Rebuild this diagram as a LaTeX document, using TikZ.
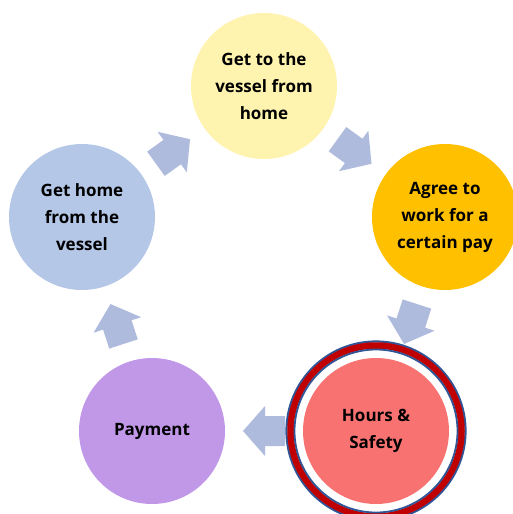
\documentclass[tikz,border=0pt]{standalone}
\usepackage{fontspec}
\setmainfont{Open Sans}
\usetikzlibrary{calc,backgrounds}
\definecolor{cyel}{HTML}{FFF3B0}
\definecolor{corg}{HTML}{FFC000}
\definecolor{cblu}{HTML}{B4C7E7}
\definecolor{cpur}{HTML}{C198E8}
\definecolor{cpnk}{HTML}{F87272}
\definecolor{carr}{HTML}{AFBBDD}
\definecolor{cring}{HTML}{C00000}
\definecolor{cedge}{HTML}{2F5597}
\newcommand\cyclearrow[2]{%
  \pgfmathanglebetweenpoints{\pgfpointanchor{#1}{center}}{\pgfpointanchor{#2}{center}}%
  \let\arrang\pgfmathresult
  \begin{scope}[shift={($(#1.center)!0.5!(#2.center)$)}, rotate=\arrang]
    \fill[carr] (-21,-15) -- (-1,-15) -- (-1,-25) -- (21,0) -- (-1,25) -- (-1,15) -- (-21,15) -- cycle;
  \end{scope}}
\begin{document}
\begin{tikzpicture}[x=1pt,y=1pt,
  stage/.style={circle, minimum size=146pt, inner sep=0pt, align=center,
    font=\fontsize{17}{27}\selectfont\bfseries}]
\useasboundingbox (0,0) rectangle (513,-514);
\clip (0,0) rectangle (513,-514);
\node[stage, fill=cyel] (t) at (264,-86) {Get to the\\vessel from\\home};
\node[stage, fill=corg] (r) at (445,-217) {Agree to\\work for a\\certain pay};
\node[stage, fill=cpnk] (h) at (376,-431) {Hours \&\\Safety};
\node[stage, fill=cpur] (p) at (152,-431) {Payment};
\node[stage, fill=cblu] (l) at (82,-217) {Get home\\from the\\vessel};
\draw[cedge, line width=2.2pt] (h.center) circle[radius=89.5pt];
\draw[cring, line width=6.5pt] (h.center) circle[radius=85.5pt];
\draw[cedge, line width=1.8pt] (h.center) circle[radius=81.5pt];
\begin{scope}[on background layer]
  \cyclearrow{t}{r}
  \cyclearrow{r}{h}
  \cyclearrow{h}{p}
  \cyclearrow{p}{l}
  \cyclearrow{l}{t}
\end{scope}
\end{tikzpicture}
\end{document}
